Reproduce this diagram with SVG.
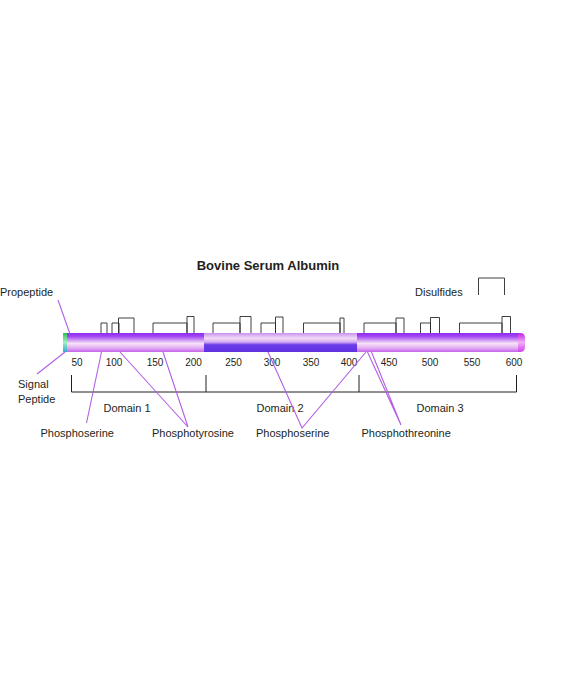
<svg xmlns="http://www.w3.org/2000/svg" width="564" height="700" viewBox="0 0 564 700">
<defs>
<linearGradient id="gA" x1="0" y1="0" x2="0" y2="1">
<stop offset="0" stop-color="#8a2cf0"/>
<stop offset="0.18" stop-color="#a446f2"/>
<stop offset="0.55" stop-color="#f7e2f7"/>
<stop offset="0.8" stop-color="#e2aaf2"/>
<stop offset="1" stop-color="#c462ea"/>
</linearGradient>
<linearGradient id="gB" x1="0" y1="0" x2="0" y2="1">
<stop offset="0" stop-color="#c890f0"/>
<stop offset="0.28" stop-color="#f3dcf6"/>
<stop offset="0.48" stop-color="#d2aaf2"/>
<stop offset="0.62" stop-color="#6c3ce8"/>
<stop offset="1" stop-color="#5e30e0"/>
</linearGradient>
<linearGradient id="gEndR" x1="0" y1="0" x2="0" y2="1">
<stop offset="0" stop-color="#c020e6"/>
<stop offset="0.5" stop-color="#f2b0f4"/>
<stop offset="1" stop-color="#d040ee"/>
</linearGradient>
<linearGradient id="gEndL" x1="0" y1="0" x2="0" y2="1">
<stop offset="0" stop-color="#30c050"/>
<stop offset="0.5" stop-color="#a0f0c0"/>
<stop offset="1" stop-color="#30a8d0"/>
</linearGradient>
<linearGradient id="gBlend1" x1="0" y1="0" x2="1" y2="0">
<stop offset="0" stop-color="#fff" stop-opacity="0"/>
<stop offset="1" stop-color="#fff" stop-opacity="0"/>
</linearGradient>
</defs>
<style>
text { font-family: "Liberation Sans", Arial, sans-serif; fill: #231f20; }
.lbl { font-size: 11px; }
.num { font-size: 10px; text-anchor: middle; }
.dom { font-size: 11px; text-anchor: middle; }
.ss { fill: none; stroke: #2a2a2a; stroke-width: 0.9; }
.ax { fill: none; stroke: #231f20; stroke-width: 1; }
.con { fill: none; stroke: #b25ee6; stroke-width: 1.1; }
</style>
<rect width="564" height="700" fill="#ffffff"/>

<g id="title">
<text x="268" y="270" font-size="13" font-weight="bold" text-anchor="middle">Bovine Serum Albumin</text>
</g>

<g id="bar">
<rect x="66" y="333" width="139" height="19" fill="url(#gA)"/>
<rect x="204" y="333" width="154" height="19" fill="url(#gB)"/>
<rect x="357" y="333" width="163" height="19" fill="url(#gA)"/>
<path d="M518 333 H520 Q525 333 525 338 V347 Q525 352 520 352 H518 Z" fill="url(#gEndR)"/>
<rect x="63" y="333" width="4" height="19" fill="url(#gEndL)"/>
</g>

<g id="disulfides">
<path class="ss" d="M101 333 V323 H107 V333"/>
<path class="ss" d="M112 333 V323 H119 V333"/>
<path class="ss" d="M118.5 333 V318 H134 V333"/>
<path class="ss" d="M153 333 V323 H187 V333"/>
<path class="ss" d="M187 333 V316.5 H194 V333"/>
<path class="ss" d="M213 333 V323 H240 V333"/>
<path class="ss" d="M240 333 V316.5 H251 V333"/>
<path class="ss" d="M261 333 V323 H275.5 V333"/>
<path class="ss" d="M275.5 333 V317 H283 V333"/>
<path class="ss" d="M303.5 333 V323 H340 V333"/>
<path class="ss" d="M340 333 V318 H344 V333"/>
<path class="ss" d="M364 333 V323 H396 V333"/>
<path class="ss" d="M396 333 V318 H404 V333"/>
<path class="ss" d="M420.5 333 V323 H430.5 V333"/>
<path class="ss" d="M430.5 333 V317.5 H439.5 V333"/>
<path class="ss" d="M459.5 333 V323 H502 V333"/>
<path class="ss" d="M502 333 V316.5 H510.5 V333"/>
</g>

<g id="legend">
<path class="ss" d="M478.5 295 V278 H504.5 V295"/>
<text class="lbl" x="415" y="296">Disulfides</text>
</g>

<g id="ticks">
<text class="num" x="77" y="366">50</text>
<text class="num" x="114" y="366">100</text>
<text class="num" x="155" y="366">150</text>
<text class="num" x="193.5" y="366">200</text>
<text class="num" x="233.5" y="366">250</text>
<text class="num" x="272" y="366">300</text>
<text class="num" x="311" y="366">350</text>
<text class="num" x="349" y="366">400</text>
<text class="num" x="389" y="366">450</text>
<text class="num" x="430" y="366">500</text>
<text class="num" x="472" y="366">550</text>
<text class="num" x="514" y="366">600</text>
</g>

<g id="domains">
<path class="ax" d="M71.5 375 V392 H516.5 V375 M206 375 V392 M359 375 V392"/>
<text class="dom" x="127" y="412">Domain 1</text>
<text class="dom" x="280" y="412">Domain 2</text>
<text class="dom" x="440" y="412">Domain 3</text>
</g>

<g id="connectors">
<path class="con" d="M58 300 L70 334"/>
<path class="con" d="M37 374 L65 352"/>
<path class="con" d="M86.5 423 L101.5 352"/>
<path class="con" d="M120 352 L188 427 L163 352"/>
<path class="con" d="M268 352 L302 428 L366 352"/>
<path class="con" d="M367.5 352 L401 425 L371.5 352"/>
</g>

<g id="labels">
<text class="lbl" x="0" y="296">Propeptide</text>
<text class="lbl" x="18" y="388">Signal</text>
<text class="lbl" x="18" y="403">Peptide</text>
<text class="lbl" x="40.5" y="437">Phosphoserine</text>
<text class="lbl" x="152" y="437">Phosphotyrosine</text>
<text class="lbl" x="256" y="437">Phosphoserine</text>
<text class="lbl" x="361.5" y="437">Phosphothreonine</text>
</g>
</svg>
